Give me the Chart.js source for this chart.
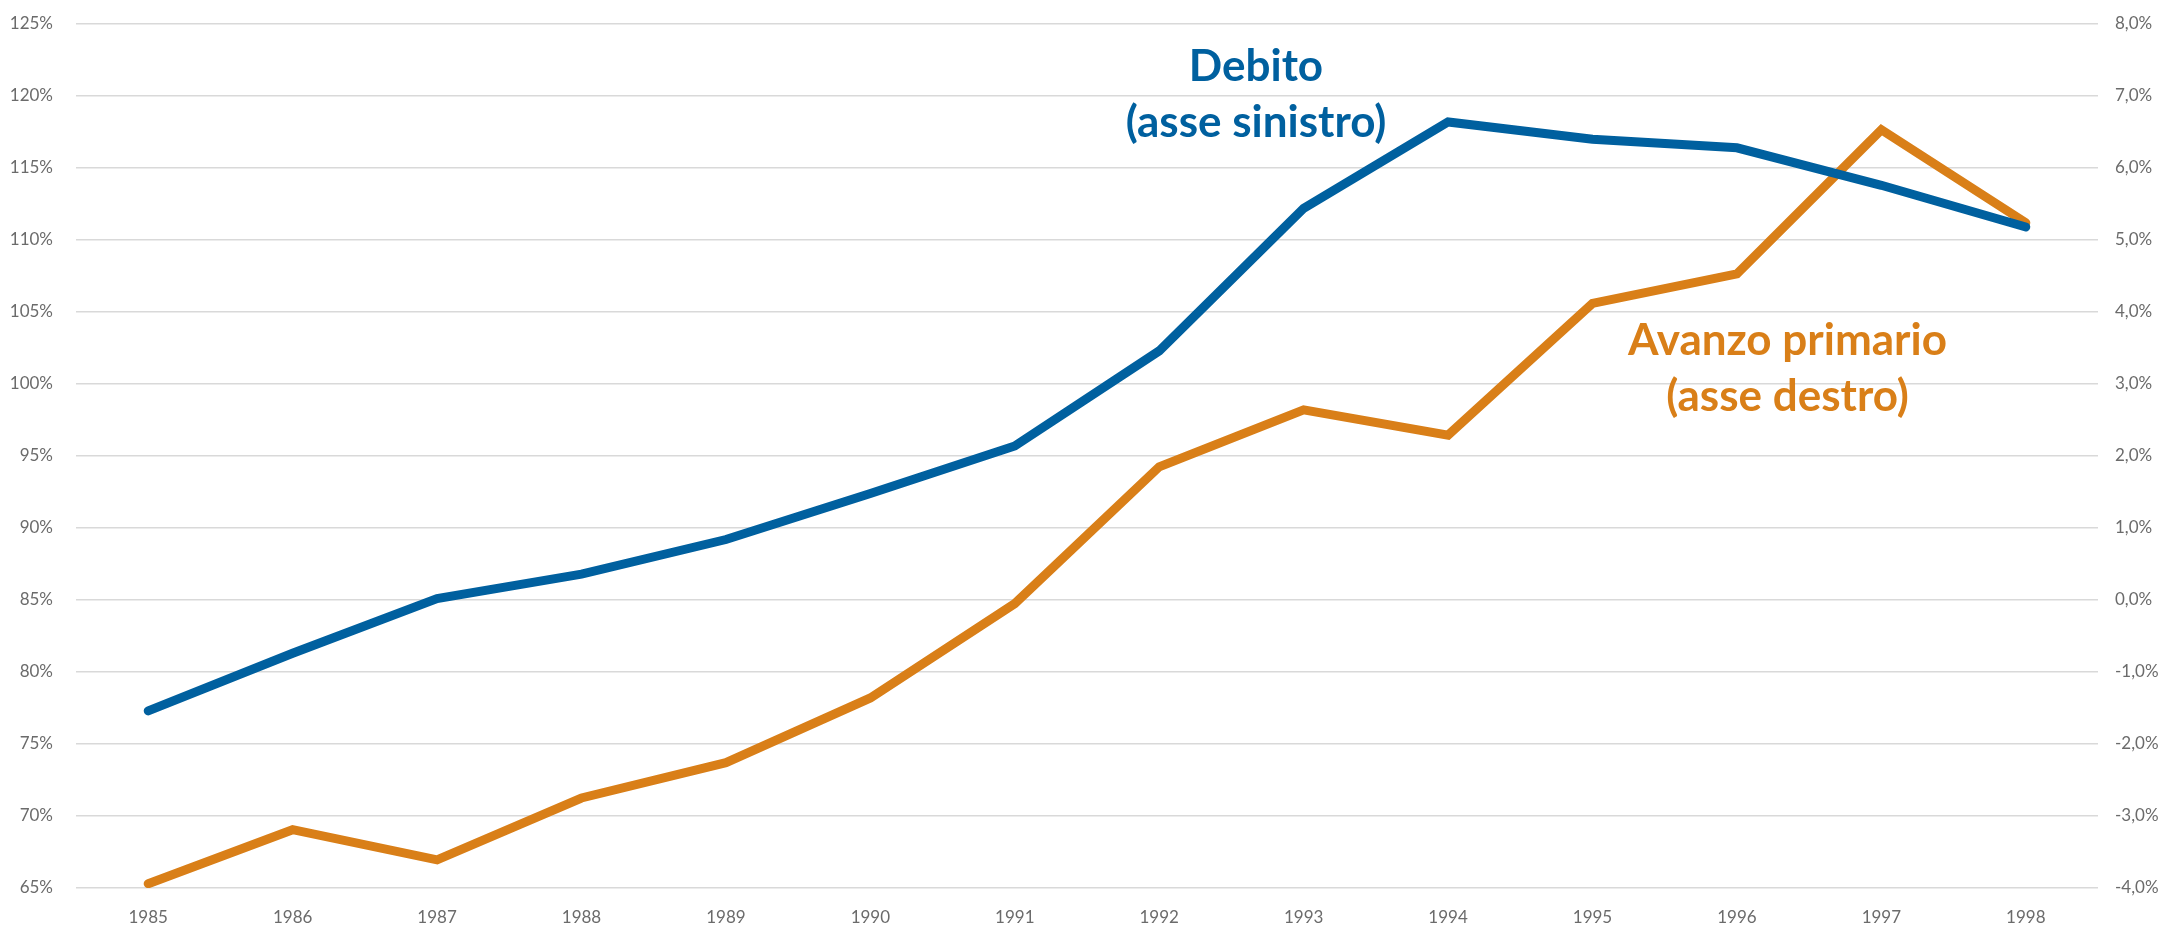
<!DOCTYPE html>
<html>
<head>
<meta charset="utf-8">
<script src="https://cdn.jsdelivr.net/npm/chart.js@4.4.1/dist/chart.umd.min.js"></script>
<style>
  html, body { margin: 0; padding: 0; background: #fff; }
  #wrap { width: 2179px; height: 928px; }
</style>
</head>
<body>
<div id="wrap"><canvas id="grafico"></canvas></div>
<script>
// Anni sull'asse orizzontale
const anni = ['1985', '1986', '1987', '1988', '1989', '1990', '1991',
              '1992', '1993', '1994', '1995', '1996', '1997', '1998'];

// Debito in % del PIL (asse sinistro)
const debito = [77.3, 81.3, 85.1, 86.8, 89.2, 92.4, 95.7,
                102.3, 112.2, 118.2, 117.0, 116.4, 113.8, 110.9];

// Avanzo primario in % del PIL (asse destro)
const avanzoPrimario = [-3.94, -3.19, -3.61, -2.75, -2.26, -1.36, -0.05,
                        1.85, 2.64, 2.29, 4.12, 4.53, 6.53, 5.24];

const BLU = '#00609f';
const ARANCIO = '#d97f18';
const GRIGIO_TESTO = '#6b6b6b';
const FONT = 'Lato';

// Etichette dentro il grafico
const etichette = [
    { righe: ['Debito', '(asse sinistro)'], colore: BLU, xIndice: 7.67, yValore: 122.0, asse: 'y' },
    { righe: ['Avanzo primario', '(asse destro)'], colore: ARANCIO, xIndice: 11.35, yValore: 3.6, asse: 'y1' }
];

const pluginEtichette = {
    id: 'etichette',
    afterDatasetsDraw(chart) {
        const ctx = chart.ctx;
        ctx.save();
        ctx.font = 'bold 44px ' + FONT;
        ctx.textAlign = 'center';
        ctx.textBaseline = 'middle';
        etichette.forEach(et => {
            const x = chart.scales.x.getPixelForValue(et.xIndice);
            const y = chart.scales[et.asse].getPixelForValue(et.yValore);
            ctx.fillStyle = et.colore;
            et.righe.forEach((riga, i) => {
                ctx.fillText(riga, x, y + i * 56);
            });
        });
        ctx.restore();
    }
};

// Margini fissi per far combaciare l'area del grafico
function fissaVerticale(larghezza) {
    return scale => {
        scale.width = larghezza;
        scale.paddingTop = 0;
        scale.paddingBottom = 0;
    };
}

const ctx = document.getElementById('grafico').getContext('2d');
new Chart(ctx, {
    type: 'line',
    data: {
        labels: anni,
        datasets: [
            {
                label: 'Debito',
                data: debito,
                yAxisID: 'y',
                borderColor: BLU,
                backgroundColor: BLU,
                borderWidth: 9,
                pointRadius: 0,
                tension: 0,
                borderCapStyle: 'round'
            },
            {
                label: 'Avanzo primario',
                data: avanzoPrimario,
                yAxisID: 'y1',
                borderColor: ARANCIO,
                backgroundColor: ARANCIO,
                borderWidth: 9,
                pointRadius: 0,
                tension: 0,
                borderCapStyle: 'round'
            }
        ]
    },
    options: {
        responsive: true,
        maintainAspectRatio: false,
        animation: false,
        layout: { padding: { top: 24, bottom: 0, left: 0, right: 0 } },
        plugins: {
            legend: { display: false },
            tooltip: { enabled: false }
        },
        scales: {
            x: {
                offset: true,
                grid: { display: false, drawTicks: false },
                border: { display: false },
                ticks: { color: GRIGIO_TESTO, font: { family: FONT, size: 17 }, padding: 19, maxRotation: 0 },
                afterFit(scale) {
                    scale.height = 40;
                    scale.paddingLeft = 0;
                    scale.paddingRight = 0;
                }
            },
            y: {
                position: 'left',
                min: 65,
                max: 125,
                ticks: {
                    stepSize: 5,
                    color: GRIGIO_TESTO,
                    font: { family: FONT, size: 17 },
                    padding: 23,
                    callback: v => v + '%'
                },
                grid: { color: '#d9d9d9', lineWidth: 1.5, drawTicks: false },
                border: { display: false },
                afterFit: fissaVerticale(76)
            },
            y1: {
                position: 'right',
                min: -4,
                max: 8,
                ticks: {
                    stepSize: 1,
                    color: GRIGIO_TESTO,
                    font: { family: FONT, size: 17 },
                    padding: 17,
                    callback: v => v.toFixed(1).replace('.', ',') + '%'
                },
                grid: { display: false, drawTicks: false },
                border: { display: false },
                afterFit: fissaVerticale(81)
            }
        }
    },
    plugins: [pluginEtichette]
});
</script>
</body>
</html>
